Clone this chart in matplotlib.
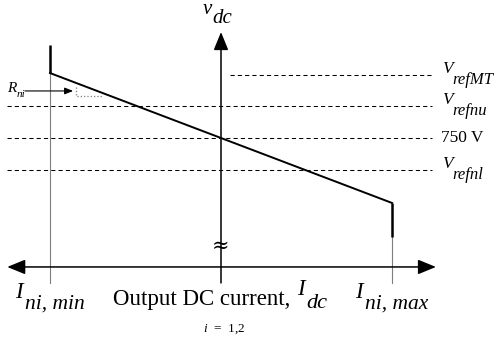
import matplotlib
matplotlib.use("Agg")
from matplotlib import pyplot as plt

plt.rcParams['font.family'] = ['Liberation Serif', 'DejaVu Serif']
plt.rcParams['mathtext.fontset'] = 'custom'
plt.rcParams['mathtext.rm'] = 'Liberation Serif'
plt.rcParams['mathtext.it'] = 'Liberation Serif:italic'

# normalised droop characteristic: current in units of I_max, voltage in bands around 750 V
I_MIN, I_MAX = -1.0, 1.0
DROOP_V = [2.03, -2.03]          # v_dc at I_min and at I_max
REF_LEVELS = [1.97, 1.0, 0.0, -1.0]
REF_SUBS = ['refMT', 'refnu', None, 'refnl']
NOMINAL_TEXT = '750 V'

# extent of the sketch
X_AXIS_V = -4.03
X_ARROW = (-1.25, 1.257)
Y_ARROW = (-4.53, 3.31)
LIMB_TOP = 2.9
LIMB_BOTTOM = -4.53
RIGHT_THICK_END = -3.09


def sub_label(x, y, main, sub, size, sub_size, drop, gap=0.0, main_style='italic'):
    t = ax.text(x, y, main, fontsize=size, style=main_style, va='baseline', ha='left')
    ax.annotate(sub, xy=(1, 0), xycoords=t, xytext=(gap, -drop),
                textcoords='offset points', fontsize=sub_size, style='italic',
                va='baseline', ha='left')
    return t


fig = plt.figure(figsize=(4.99, 3.37), dpi=100)
ax = fig.add_axes([0, 0, 1, 1])
ax.set_xlim(-221 / 171, 278 / 171)
ax.set_ylim(-199 / 32, 138 / 32)
ax.axis('off')

grey = '#7f7f7f'

# limits I_ni,min and I_ni,max
ax.plot([I_MIN, I_MIN], [LIMB_BOTTOM, DROOP_V[0]], color=grey, lw=0.8)
ax.plot([I_MIN, I_MIN], [DROOP_V[0], LIMB_TOP], color='k', lw=1.8, solid_capstyle='butt')
ax.plot([I_MAX, I_MAX], [LIMB_BOTTOM, RIGHT_THICK_END], color=grey, lw=0.8)
ax.plot([I_MAX, I_MAX], [RIGHT_THICK_END, DROOP_V[1]], color='k', lw=1.8, solid_capstyle='butt')

# reference levels
for lvl, sub in zip(REF_LEVELS, REF_SUBS):
    x0 = 0.05 if sub == 'refMT' else X_ARROW[0]
    ax.plot([x0, 1.234], [lvl, lvl], color='k', lw=0.75, linestyle=(0, (4, 3)))
    if sub is None:
        ax.text(1.285, lvl, NOMINAL_TEXT, fontsize=12.5, va='center', ha='left')
    else:
        sub_label(1.292, lvl + 0.05, 'V', sub, 12.5, 12, 4.5)

# droop line
ax.plot([I_MIN, I_MAX], DROOP_V, color='k', lw=1.4)

# axes with arrow heads
head = '-|>,head_length=1.1,head_width=0.45'
ax.annotate('', xy=(0, Y_ARROW[1]), xytext=(0, Y_ARROW[0]),
            arrowprops=dict(arrowstyle=head, color='k', lw=1.1, mutation_scale=10,
                            shrinkA=0, shrinkB=0))
ax.annotate('', xy=(X_ARROW[1], X_AXIS_V), xytext=(X_ARROW[0], X_AXIS_V),
            arrowprops=dict(arrowstyle='<|-|>,head_length=1.1,head_width=0.45', color='k',
                            lw=1.1, mutation_scale=10, shrinkA=0, shrinkB=0))
ax.text(0, -3.375, '≈', fontsize=15, ha='center', va='center', family=['DejaVu Serif'])

# droop resistance marker
ax.annotate('', xy=(-0.865, 1.47), xytext=(-1.146, 1.47),
            arrowprops=dict(arrowstyle='-|>,head_length=0.5,head_width=0.2', color='k',
                            lw=0.8, mutation_scale=10, shrinkA=0, shrinkB=0))
ax.plot([-0.848, -0.848, -0.696], [1.59, 1.31, 1.31], color=grey, lw=0.9, linestyle=':')
sub_label(-1.251, 1.45, 'R', 'ni', 11, 8, 1.5)

# labels
sub_label(-0.105, 3.875, 'v', 'dc', 15, 15, 3)
sub_label(-1.205, -5.0, 'I', 'ni, min', 16.5, 15.5, 4, gap=1.5)
sub_label(0.784, -5.0, 'I', 'ni, max', 16.5, 15.5, 4, gap=1.5)
ax.text(-0.632, -5.22, 'Output DC current,', fontsize=16.5, va='baseline', ha='left')
sub_label(0.444, -4.91, 'I', 'dc', 16.5, 16, 6, gap=1.0)
ax.text(-0.105, -6.06, r'$i$  =  1,2', fontsize=9.5, va='baseline', ha='left')

fig.savefig('out.png', dpi=100)
